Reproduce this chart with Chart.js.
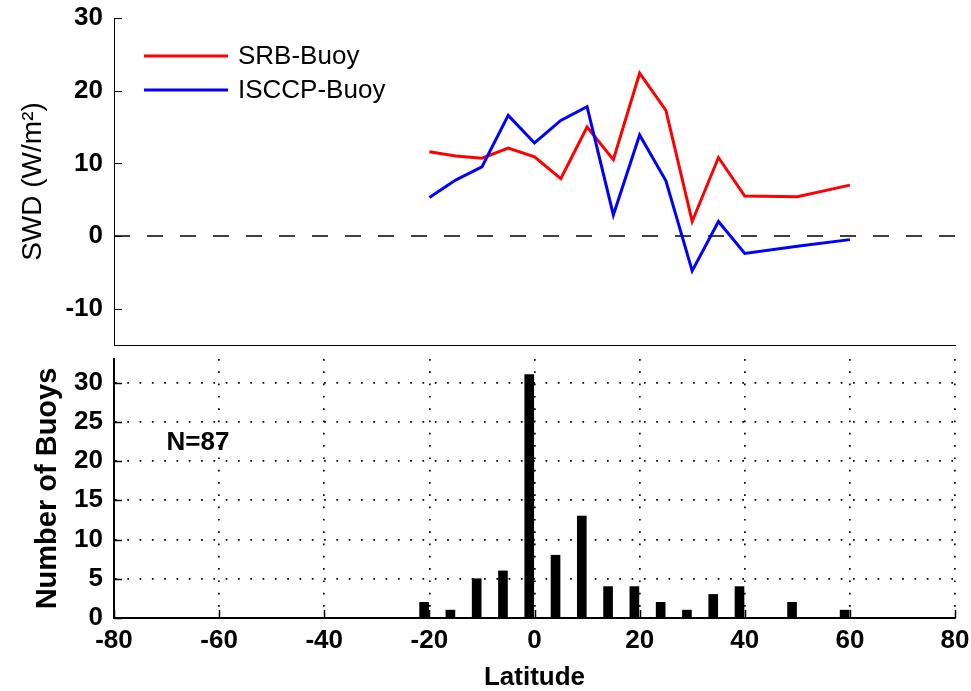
<!DOCTYPE html>
<html>
<head>
<meta charset="utf-8">
<script src="https://cdn.jsdelivr.net/npm/chart.js@4.4.1/dist/chart.umd.min.js"></script>
<style>
  html, body { margin: 0; padding: 0; background: #fff; }
  #wrap { position: relative; width: 971px; height: 691px; }
  canvas { position: absolute; left: 0; }
  #top { top: 0; }
  #bottom { top: 350px; }
</style>
</head>
<body>
<div id="wrap">
  <canvas id="top" width="971" height="350"></canvas>
  <canvas id="bottom" width="971" height="341"></canvas>
</div>
<script>
// latitude bins of the difference curves
const lat = [-20, -15, -10, -5, 0, 5, 10, 15, 20, 25, 30, 35, 40, 50, 60];
const srbBuoy = [11.6, 11.0, 10.7, 12.1, 10.9, 7.9, 15.0, 10.5, 22.4, 17.3, 2.0, 10.8, 5.5, 5.4, 7.0];
const isccpBuoy = [5.3, 7.7, 9.5, 16.6, 12.8, 15.9, 17.8, 2.9, 13.9, 7.6, -4.8, 2.0, -2.4, -1.4, -0.5];

// buoy histogram (bars sit just left of the bin latitude)
const buoyLat = [-21, -16, -11, -6, -1, 4, 9, 14, 19, 24, 29, 34, 39, 49, 59];
const buoyCount = [2, 1, 5, 6, 31, 8, 13, 4, 4, 2, 1, 3, 4, 2, 1];

const latTicks = [-80, -60, -40, -20, 0, 20, 40, 60, 80];
const swdTicks = [-10, 0, 10, 20, 30];
const countTicks = [0, 5, 10, 15, 20, 25, 30];

const latMin = -80, latMax = 80;
const fontFamily = '"Liberation Sans", Arial, Helvetica, sans-serif';

function toPoints(xs, ys){
	return xs.map((x, i) => ({x: x, y: ys[i]}));
}

// chart.js reserves room for edge labels, the axes here don't need it
function noEdgePadding(s){
	s.paddingTop = 0;
	s.paddingBottom = 0;
	s.paddingLeft = 0;
	s.paddingRight = 0;
}

// matlab style ticks pointing into the axes
const inwardTicks = {
	id: 'inwardTicks',
	afterDraw(chart, args, opts){
		const ctx = chart.ctx;
		const a = chart.chartArea;
		const len = 8;
		ctx.save();
		ctx.strokeStyle = '#000';
		ctx.lineWidth = opts.width || 1;
		chart.scales.y.ticks.forEach((t) => {
			const py = Math.round(chart.scales.y.getPixelForValue(t.value)) + 0.5;
			ctx.beginPath();
			ctx.moveTo(a.left, py);
			ctx.lineTo(a.left + len, py);
			ctx.stroke();
		});
		if(opts.xTicks){
			chart.scales.x.ticks.forEach((t) => {
				const px = Math.round(chart.scales.x.getPixelForValue(t.value)) + 0.5;
				ctx.beginPath();
				ctx.moveTo(px, a.bottom);
				ctx.lineTo(px, a.bottom - len);
				ctx.stroke();
			});
		}
		ctx.restore();
	}
};

// legend drawn inside the top axes
const lineLegend = {
	id: 'lineLegend',
	afterDraw(chart){
		const ctx = chart.ctx;
		const a = chart.chartArea;
		ctx.save();
		ctx.font = '26px ' + fontFamily;
		ctx.textBaseline = 'middle';
		ctx.fillStyle = '#000';
		chart.data.datasets.filter((d) => d.inLegend).forEach((d, i) => {
			const y = a.top + 38 + i * 34;
			ctx.strokeStyle = d.borderColor;
			ctx.lineWidth = 3;
			ctx.beginPath();
			ctx.moveTo(a.left + 30, y);
			ctx.lineTo(a.left + 114, y);
			ctx.stroke();
			ctx.fillText(d.label, a.left + 124, y + 1);
		});
		ctx.restore();
	}
};

const countLabel = {
	id: 'countLabel',
	afterDraw(chart){
		const ctx = chart.ctx;
		const total = buoyCount.reduce((s, v) => s + v, 0);
		ctx.save();
		ctx.font = 'bold 26px ' + fontFamily;
		ctx.textBaseline = 'middle';
		ctx.fillStyle = '#000';
		ctx.fillText('N=' + total, chart.scales.x.getPixelForValue(-70), chart.scales.y.getPixelForValue(22.3));
		ctx.restore();
	}
};

const tickFont = {family: fontFamily, size: 26, weight: 'bold'};

new Chart(document.getElementById('top').getContext('2d'), {
	type: 'line',
	data: {
		datasets: [
			{
				label: 'SRB-Buoy',
				inLegend: true,
				data: toPoints(lat, srbBuoy),
				borderColor: '#ff0000',
				borderWidth: 3,
				pointRadius: 0,
				tension: 0,
				order: 1,
			},
			{
				label: 'ISCCP-Buoy',
				inLegend: true,
				data: toPoints(lat, isccpBuoy),
				borderColor: '#0000ff',
				borderWidth: 3,
				pointRadius: 0,
				tension: 0,
				order: 0,
			},
			{
				label: 'zero',
				data: [{x: latMin, y: 0}, {x: latMax, y: 0}],
				borderColor: '#000',
				borderWidth: 1.6,
				borderDash: [16, 17],
				pointRadius: 0,
				order: 2,
			},
		]
	},
	options: {
		responsive: false,
		animation: false,
		layout: {padding: {left: 0, right: 16, top: 18, bottom: 0}},
		plugins: {
			legend: {display: false},
			tooltip: {enabled: false},
			inwardTicks: {width: 1},
		},
		scales: {
			x: {
				type: 'linear',
				min: latMin,
				max: latMax,
				ticks: {display: false},
				grid: {display: false, drawTicks: false},
				border: {display: true, color: '#000', width: 1},
				afterFit(s){ s.height = 5; noEdgePadding(s); },
			},
			y: {
				min: -15,
				max: 30,
				afterBuildTicks(s){ s.ticks = swdTicks.map((v) => ({value: v})); },
				ticks: {color: '#000', font: tickFont, padding: 11},
				grid: {display: false, drawTicks: false},
				border: {display: true, color: '#000', width: 1},
				title: {
					display: true,
					text: 'SWD (W/m²)',
					color: '#000',
					font: {family: fontFamily, size: 28},
					padding: {top: 16, bottom: 0},
				},
				afterFit(s){ s.width = 114; noEdgePadding(s); },
			}
		}
	},
	plugins: [inwardTicks, lineLegend]
});

new Chart(document.getElementById('bottom').getContext('2d'), {
	type: 'bar',
	data: {
		datasets: [{
			label: 'Number of Buoys',
			data: toPoints(buoyLat, buoyCount),
			backgroundColor: '#000',
			barThickness: 9,
		}]
	},
	options: {
		responsive: false,
		animation: false,
		layout: {padding: {left: 0, right: 16, top: 9, bottom: 0}},
		plugins: {
			legend: {display: false},
			tooltip: {enabled: false},
			inwardTicks: {width: 1.5, xTicks: true},
		},
		scales: {
			x: {
				type: 'linear',
				min: latMin,
				max: latMax,
				offset: false,
				afterBuildTicks(s){ s.ticks = latTicks.map((v) => ({value: v})); },
				ticks: {color: '#000', font: tickFont, padding: 7, maxRotation: 0},
				grid: {display: true, offset: false, drawTicks: false, color: '#000', lineWidth: 1.7},
				border: {display: true, color: '#000', width: 2, dash: [1.7, 10.6]},
				title: {
					display: true,
					text: 'Latitude',
					color: '#000',
					font: {family: fontFamily, size: 26, weight: 'bold', lineHeight: 1},
					padding: {top: 0, bottom: 0},
				},
				afterFit(s){ s.height = 73; noEdgePadding(s); },
			},
			y: {
				min: 0,
				max: 33,
				afterBuildTicks(s){ s.ticks = countTicks.map((v) => ({value: v})); },
				ticks: {color: '#000', font: tickFont, padding: 11},
				grid: {display: true, drawTicks: false, color: '#000', lineWidth: 1.7},
				border: {display: true, color: '#000', width: 2, dash: [1.7, 10.6]},
				title: {
					display: true,
					text: 'Number of Buoys',
					color: '#000',
					font: {family: fontFamily, size: 29, weight: 'bold'},
					padding: {top: 31, bottom: 0},
				},
				afterFit(s){ s.width = 114; noEdgePadding(s); },
			}
		}
	},
	plugins: [inwardTicks, countLabel]
});
</script>
</body>
</html>
